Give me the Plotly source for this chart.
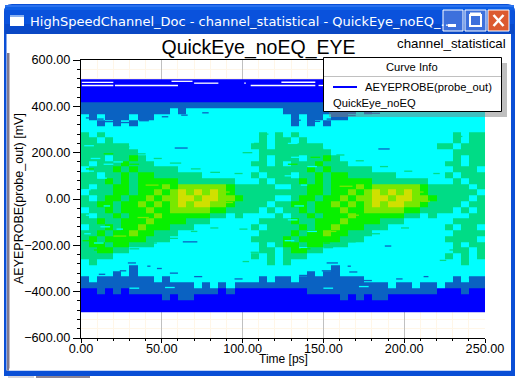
import plotly.graph_objects as go

W, H = 521, 380
L, R, T, B = 81, 485, 60, 338

# ---- data ----
X_EDGES = [0,5,10,15,20,25,30,35,40,45,50,55,60,65,70,75,80,85,90,95,100,105,110,115,120,125,
           130,135,140,145,150,155,160,165,170,175,180,185,190,195,200,205,210,215,220,225,230,235,240,245,250]
Y_EDGES_TOP_DOWN = [517,490,465,440,417,390,365,340,315,290,265,240,215,190,165,140,115,90,65,40,15,-10,
                    -35,-60,-85,-110,-135,-160,-185,-210,-235,-260,-285,-310,-335,-360,-385,-410,-435,-460,-490]
# density class per cell, top row first: B blue, M mid blue, C cyan, T teal, G green, Y yellow-green, O yellow
ROWS = [
 "BBBBB BBBBB BBBBB BBBBB BBBBB BBBBB BBBBB BBBBB BBBBB BBBBB",
 "BBBBB BBBBB BBBBB BBBBB BBBBB BBBBB BBBBB BBBBB BBBBB BBBBB",
 "BBBBB BBBBB BBBBB BBBBB BBBBB BBBBB BBBBB BBBBB BBBBB BBBBB",
 "BBBBB BBBBB BBBBB BBBBB BBBBB BBBBB BBBBB BBBBB BBBBB BBBBB",
 "MMMMM MMMMM MMMMM MMMMM MMMMM MMMMM MMMMM MMMMM MMMMM MMMMM",
 "MMMMM MMMMM MCMCC CCCCC CCCCC MMMMM MMMMC MCCCC CCCCC CCCCC",
 "CMCMM MCMMC CCCCC CCCCC CCCCC CMCMM CMMCC CCCCC CCCCC CCCCC",
 "CCMCM CMCCC CCCCC CCCCC CCCCC CMCMC MCCCC CCCCC CCCCC CCCCC",
 "CCCCC CCCCC CCCCC CCCCC CCCCC CCCCC CCCCC CCCCC CCCCC CCCCC",
 "TCTCC CCCCC CCCCC CCCCC CCTCT CTCCC CCCCC CCCCC CCCCC CTCTT",
 "TTCTC CCCCC CCCCC CCCCC CCTCT TCTCC CCCCC CCCCC CCCCC CTCTT",
 "TTTTT TCCCC CCCCC CCCCC CTTCT TTTTT CCCCC CCCCC CCCCT TCTTT",
 "TTTTT TTCCC CCCCC CCCCC CCTTT TTTTT TCCCC CCCCC CCCCC CTTTT",
 "TTTCT TGTCC CCCCC CCCCC CCTCT TTCTT GTCCC CCCCC CCCCC CTCTT",
 "TCTTT GTTTC CCCCC CCCCC CTTCT CTTTG TTTCC CCCCC CCCCC TTCTT",
 "CTTTG TGTTT TTCCC CCCCC CCTTT TTTGT GTTTT TCCCC CCCCC CTTTC",
 "TTCTT GTGGT TTTTT CCCCC CTCTT TCTTG TGGTT TTTTC CCCCC TCTTT",
 "TTTGT GTGGG GGTTT TTTTC CCTCT TTGTG TGGGG GTTTT TTTCC CTCTT",
 "TCTTG GTGGG YGYYY YYYGT TTTTC CTTGG TGGGY GYYYY YYGTT TTTCT",
 "CTTTG GTGGY GYOYO YOYGT TTTTT TTTGG TGGYG YOYOY OYGTT TTTTC",
 "TCTGG TGGYG YYOOY OOYYG TTTTC CTGGT GGYGY YOOYO OYYGT TTTCT",
 "TTGGT GGYGY GYOYO OYYGT TTTCT TGGTG GYGYG YOYOO YYGTT TTCTT",
 "CTTGT GGGYG GYYYY YGGTT TTCTC TTGTG GGYGG YYYYY GGTTT TCTCT",
 "TCTTG TGGGY GGGGG GTTCT CCCCT CTTGT GGGYG GGGGG TTCTC CCCTT",
 "TTGTT GGGYG GGGTT TCCCC CCTTT TGTTG GGYGG GGTTT CCCCC CTTTT",
 "CTTGT GGYGG GTTTC CCCCC CTCTT TTGTG GYGGG TTTCC CCCCC TCTTC",
 "TTGTG GYGGT TTCCC CCCCC CCTTT TGTGG YGGTT TCCCC CCCCC CTTTT",
 "TGTGG GGGTT TCCCC CCCCC CTTTT GTGGG GGTTT CCCCC CCCCC TTTTC",
 "TGGTG GTTTC CCCCC CCCCC CCTCT GGTGG TTTCC CCCCC CCCCC CTCTT",
 "TTGGT TCCCC CCCCC CCCCC CCTTC TGGTT CCCCC CCCCC CCCCC CTTCT",
 "TTTTC CCCCC CCCCC CCCCC CTCTC TTTCC CCCCC CCCCC CCCCC TCTCT",
 "CTCCC CCCCC CCCCC CCCCC CCCTC TCCCC CCCCC CCCCC CCCCC CCTCC",
 "CCCCC CMCCC CCCCC CCCCC CCCCC CCCCC CMCCC CCCCC CCCCC CCCCC",
 "CCCCM CMCCC CCCCC CCCCC CCCCC CCCMC MMCCC CCCCC CCCCC CCCCC",
 "MCMMM MMMMC MCCCC CCCCC CCMCM MCMMM MMMMM CCCCC CCCCC CMCMM",
 "MMMMM MMMMM MMMMC MCMCM MMMMM MMMMM MMMMM MMMCM MCMMC MMMMM",
 "BBMBM BMMMM MMMMM MMBMB BBBBB BBBMM MMMMM MMMMM MMMMB BBMBB",
 "BBBBB BBBBB MBMMB BBBBB BBBBB BBBBB BBMBM BMMBB BBBBB BBBBB",
 "BBBBB BBBBB BBBBB BBBBB BBBBB BBBBB BBBBB BBBBB BBBBB BBBBB",
 "BBBBB BBBBB BBBBB BBBBB BBBBB BBBBB BBBBB BBBBB BBBBB BBBBB",
]
LEVELS = "BMCTGYO"
LEVEL_COLORS = ["#0000ff", "#0a62c2", "#00ffff", "#00dc86", "#08f000", "#78e800", "#d0e000"]

# thin horizontal flecks, as (start ps, end ps, mV)
WHITE_FLECKS = [(0.5,20,503),(0.5,20,490),(21,60,490),(56,69,508),(70,85,500),(101,102,500),(105,145,490),(124,145,504),(147,150,490)]
MIDBLUE_FLECKS = [(13.8,20,334),(24,31,330),(36,42,338),(3,6,350),(10,14,345),(50,54,355),(62,66,362),(75,79,372),
                  (130,136,340),(142,148,335),(152,158,345),(165,170,360),(180,185,370),(58,66,220),(63,72,-185),
                  (184,191,216),(188,192,-203),(29,34,-276),(41,43,-290),(24,28,-310),(20,23,-328),(47,50,-300),
                  (11,15,-325),(152,159,-276),(165,167,-290),(149,157,-310),(166,171,-315),(175,180,-352),
                  (135,140,-330),(120,124,-340),(55,60,-320),(70,75,-335),(95,100,-345),(195,199,-345),
                  (212,215,-335),(240,245,-340)]
CYAN_FLECKS = [(2,8,230),(6,12,175),(14,20,150),(3,8,120),(10,16,90),(1,6,40),(5,10,10),(14,18,-30),(3,9,-70),
               (12,18,-120),(2,6,-150),(8,14,-190),(22,26,-130),(20,26,160),(128,134,240),(130,136,180),
               (140,146,140),(126,132,100),(136,140,60),(124,130,10),(132,138,-30),(128,134,-90),(140,146,-140),
               (126,132,-180),(135,140,-210),(30,36,-385),(52,58,-382),(150,156,-385),(172,178,-378)]
TEAL_FLECKS = [(25,30,225),(35,40,195),(45,50,175),(55,62,155),(68,74,130),(80,86,115),(30,36,-215),(42,47,-190),
               (55,60,-170),(68,72,-140),(80,85,-125),(95,100,110),(100,106,200),(107,112,240),(112,116,280),
               (98,103,-130),(105,110,-230),(100,104,-270),(145,150,215),(158,163,190),(170,175,165),(185,190,140),
               (200,205,120),(150,156,-210),(165,170,-185),(180,185,-150),(198,203,-125),(218,222,110),(225,230,220),
               (232,236,270),(228,232,-220),(222,226,-265)]
GREEN_FLECKS = [(1,6,-180),(8,14,-220),(3,8,130),(14,20,195),(25,29,-170),(30,36,150),(125,130,-200),(128,134,150),
                (136,142,-215),(142,148,180),(150,154,-190)]
YELLOW_FLECKS = [(35,42,-80),(20,28,-160),(40,48,60),(85,92,30),(88,94,-15),(165,172,-70),(150,158,-140),
                 (205,212,30),(210,216,-10),(160,168,55)]

X_TICKS = [0, 50, 100, 150, 200, 250]
Y_TICKS = [-600, -400, -200, 0, 200, 400, 600]

TITLE = "QuickEye_noEQ_EYE"
X_TITLE = "Time [ps]"
Y_TITLE = "AEYEPROBE(probe_out) [mV]"
WINDOW_TITLE = "HighSpeedChannel_Doc - channel_statistical - QuickEye_noEQ_..."
DESIGN = "channel_statistical"
LEGEND_HEAD = "Curve Info"
LEGEND_LINE = "AEYEPROBE(probe_out)"
LEGEND_SOLUTION = "QuickEye_noEQ"

# ---- helpers: pixel -> paper ----
def px(x): return (x - L) / (R - L)
def py(y): return (B - y) / (B - T)

shapes = []
def rect(x0, y0, x1, y1, fill, line=None, lw=1, layer="below", opacity=None):
    s = dict(type="rect", xref="paper", yref="paper", x0=px(x0), x1=px(x1), y0=py(y1), y1=py(y0),
             fillcolor=fill, line=dict(color=line or fill, width=lw if line else 0), layer=layer)
    if opacity is not None:
        s["opacity"] = opacity
    shapes.append(s)
def line(x0, y0, x1, y1, color, lw=1, layer="above"):
    shapes.append(dict(type="line", xref="paper", yref="paper", x0=px(x0), x1=px(x1), y0=py(y0), y1=py(y1),
                       line=dict(color=color, width=lw), layer=layer))

annotations = []
def text(x, y, s, size, color="#000000", anchor="left", family="Liberation Sans, Arial, sans-serif", angle=0):
    annotations.append(dict(xref="paper", yref="paper", x=px(x), y=py(y), text=s, showarrow=False,
                            xanchor=anchor, yanchor="middle", textangle=angle,
                            font=dict(size=size, color=color, family=family)))

# window frame
shapes.append(dict(type="path", xref="paper", yref="paper", layer="below", line=dict(width=0), fillcolor="#0a4fd6",
    path="M %f %f L %f %f Q %f %f %f %f L %f %f Q %f %f %f %f L %f %f Z" % (
        px(4), py(376), px(4), py(12), px(4), py(4), px(12), py(4), px(507), py(4), px(515), py(4), px(515), py(12),
        px(515), py(376))))
for y0, y1, c in [(5, 7, "#2a72ee"), (7, 10, "#0d5fe6"), (10, 24, "#0a52dc"), (24, 30, "#0849cc"), (30, 34, "#0a48c4")]:
    rect(5, y0, 514, y1, c)
rect(6.5, 34, 511, 370.5, "#ffffff")
rect(7, 53, 9.5, 370.5, "#80788c")
rect(9, 368.5, 511, 370.5, "#ffffff")
rect(8, 376, 34, 378, "#d4d4dc")
rect(36, 376, 90, 378, "#8c8494")
# window buttons
for x0, x1, fill in [(443, 463, "#3d70dc"), (465, 486, "#3d70dc"), (488, 509, "#dc5a30")]:
    rect(x0, 10, x1, 31, fill, line="#ffffff", lw=1)
rect(448, 24, 456, 27, "#ffffff")
rect(470, 15, 481, 26, "rgba(0,0,0,0)", line="#ffffff", lw=2)
line(470, 13.5, 481, 13.5, "#ffffff", 2, layer="below")
line(493.5, 15, 503.5, 26, "#ffffff", 2.5, layer="below")
line(503.5, 15, 493.5, 26, "#ffffff", 2.5, layer="below")
# app icon
rect(10, 15, 24, 26, "#ffffff")
rect(10, 15, 24, 17, "#8ab0f0")
# legend box with shadow
rect(329, 63, 507, 117, "#808080", layer="above", opacity=0.5)
rect(323.5, 57.5, 501.5, 111.5, "#ffffff", line="#000000", lw=1, layer="above")
line(324, 76.5, 501, 76.5, "#c0c0c0", 1)
line(333, 87, 357, 87, "#0000ff", 2)

text(28, 21.5, WINDOW_TITLE, 13.0, color="#ffffff", family="DejaVu Sans, Verdana, sans-serif")
text(395, 44, DESIGN, 13.3)
text(412, 67, LEGEND_HEAD, 11.2, anchor="center")
text(363, 87, LEGEND_LINE, 11.2)
text(331, 102.5, LEGEND_SOLUTION, 11.2)
text(283, 359, X_TITLE, 12, anchor="center")
text(19, 199, Y_TITLE, 12.5, anchor="center", angle=-90)

# ---- traces ----
rows = [r.replace(" ", "") for r in ROWS]
z = [[LEVELS.index(c) for c in r] for r in rows[::-1]]
n = len(LEVEL_COLORS)
cs = []
for i, c in enumerate(LEVEL_COLORS):
    cs += [[i / n, c], [(i + 1) / n, c]]

fig = go.Figure()
fig.add_trace(go.Heatmap(x=X_EDGES, y=Y_EDGES_TOP_DOWN[::-1], z=z, zmin=0, zmax=n, colorscale=cs,
                         showscale=False, hoverinfo="skip", zsmooth=False))

def add_flecks(flecks, color):
    xs, ys = [], []
    for a, b, v in flecks:
        xs += [a, b, None]
        ys += [v, v, None]
    fig.add_trace(go.Scatter(x=xs, y=ys, mode="lines", line=dict(color=color, width=1.3),
                             hoverinfo="skip", showlegend=False))

add_flecks(CYAN_FLECKS, LEVEL_COLORS[2])
add_flecks(TEAL_FLECKS, LEVEL_COLORS[3])
add_flecks(GREEN_FLECKS, LEVEL_COLORS[4])
add_flecks(YELLOW_FLECKS, LEVEL_COLORS[5])
add_flecks(MIDBLUE_FLECKS, LEVEL_COLORS[1])
add_flecks(WHITE_FLECKS, "#ffffff")

FONT = "Liberation Sans, Arial, sans-serif"
axis = dict(ticks="outside", ticklen=7, tickwidth=1, tickcolor="#000000", showline=True, linecolor="#000000",
            linewidth=1.2, showgrid=True, gridcolor="#c0c0c0", gridwidth=1, zeroline=False, automargin=False,
            tickformat=".2f", tickfont=dict(size=12.7, color="#000000", family=FONT))
fig.update_layout(
    width=W, height=H, margin=dict(l=L, r=W - R, t=T, b=H - B, pad=0, autoexpand=False),
    paper_bgcolor="#ffffff", plot_bgcolor="#ffffff", showlegend=False,
    font=dict(family=FONT, color="#000000"),
    title=dict(text=TITLE, x=258.5 / W, xanchor="center", y=1 - 47 / H, yanchor="middle",
               font=dict(size=19.5, color="#000000", family=FONT)),
    shapes=shapes, annotations=annotations,
    xaxis=dict(axis, range=[0, 250], tickvals=X_TICKS, ticklen=4, mirror=True, ticklabelstandoff=-5,
               minor=dict(dtick=10, ticks="outside", ticklen=2, tickcolor="#000000", showgrid=True,
                          gridcolor="#fff6e8", gridwidth=1)),
    yaxis=dict(axis, range=[-600, 600], tickvals=Y_TICKS,
               minor=dict(dtick=40, tick0=0, ticks="outside", ticklen=3, tickcolor="#000000", showgrid=True,
                          gridcolor="#fff6e8", gridwidth=1)),
)

fig.write_html("out.html", config=dict(displayModeBar=False),
               post_script="document.body.style.margin='0';document.body.style.overflow='hidden';")
